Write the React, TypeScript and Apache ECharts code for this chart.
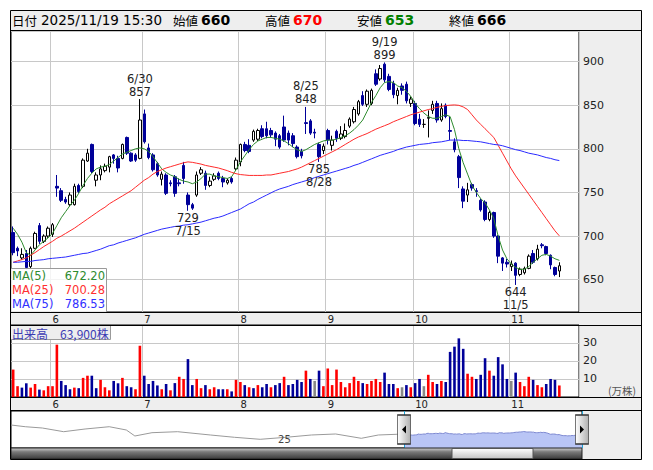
import { useEffect, useRef } from 'react';
import * as echarts from 'echarts';

// ---- dates (trading days, 2025) ----
const mayDays = [20, 21, 22, 23, 26, 27, 28, 29, 30];
const junDays = [2, 3, 4, 5, 6, 9, 10, 11, 12, 13, 16, 17, 18, 19, 20, 23, 24, 25, 26, 27, 30];
const julDays = [1, 2, 3, 4, 7, 8, 9, 10, 11, 14, 15, 16, 17, 18, 22, 23, 24, 25, 28, 29, 30, 31];
const augDays = [1, 4, 5, 6, 7, 8, 12, 13, 14, 15, 18, 19, 20, 21, 22, 25, 26, 27, 28, 29];
const sepDays = [1, 2, 3, 4, 5, 8, 9, 10, 11, 12, 16, 17, 18, 19, 22, 24, 25, 26, 29, 30];
const octDays = [1, 2, 3, 6, 7, 8, 9, 10, 14, 15, 16, 17, 20, 21, 22, 23, 24, 27, 28, 29, 30, 31];
const novDays = [4, 5, 6, 7, 10, 11, 12, 13, 14, 17, 18, 19];
const padDates = ['11/20', '11/21', '11/25', '11/26'];

// ---- OHLC ----
const opens = [704, 686, 675, 680, 665, 686, 712, 694, 700, 702, 757, 752, 742, 736, 736, 758, 757, 786, 805, 764, 770, 775, 779, 793, 789, 789, 813, 795, 793, 789, 840, 801, 793, 783, 765, 770, 761, 768, 761, 781, 747, 736, 747, 772, 772, 758, 765, 772, 766, 761, 766, 777, 785, 805, 804, 810, 811, 823, 823, 821, 818, 815, 825, 818, 815, 802, 797, 830, 832, 819, 805, 798, 821, 804, 820, 812, 814, 826, 831, 840, 861, 851, 852, 886, 880, 897, 883, 875, 861, 872, 874, 852, 852, 834, 828, 835, 844, 852, 833, 850, 821, 808, 791, 754, 747, 759, 752, 741, 739, 719, 727, 700, 675, 670, 665, 669, 656, 658, 663, 680, 674, 690, 688, 678, 664, 660];
const closes = [681, 683, 679, 664, 686, 703, 694, 700, 709, 713, 755, 741, 739, 747, 757, 751, 787, 795, 774, 770, 777, 780, 791, 789, 778, 805, 795, 786, 787, 833, 808, 790, 776, 770, 771, 749, 760, 749, 760, 766, 736, 732, 770, 776, 758, 763, 769, 766, 762, 764, 762, 787, 805, 798, 797, 820, 821, 814, 815, 816, 811, 802, 810, 810, 806, 791, 792, 829, 818, 818, 791, 803, 810, 810, 812, 817, 821, 834, 845, 854, 851, 866, 867, 874, 892, 879, 868, 862, 867, 867, 855, 857, 829, 828, 828, 836, 851, 833, 846, 837, 820, 799, 767, 740, 753, 755, 751, 730, 719, 727, 700, 677, 669, 668, 668, 655, 662, 663, 677, 670, 685, 689, 680, 667, 656, 666];
const lows = [678, 677, 673, 662, 663, 685, 691, 692, 698, 699, 745, 739, 737, 734, 735, 749, 755, 785, 772, 757, 764, 773, 773, 783, 773, 788, 793, 785, 785, 788, 806, 788, 774, 768, 758, 747, 757, 745, 757, 760, 729, 730, 745, 770, 753, 756, 763, 764, 756, 759, 760, 775, 780, 796, 795, 808, 809, 812, 812, 813, 803, 800, 808, 804, 802, 789, 789, 817, 816, 812, 785, 794, 805, 798, 808, 810, 812, 824, 829, 838, 849, 848, 850, 872, 878, 876, 866, 858, 851, 862, 852, 848, 827, 825, 824, 813, 840, 830, 831, 835, 810, 796, 755, 732, 739, 752, 745, 728, 717, 717, 698, 669, 660, 664, 660, 644, 654, 656, 662, 668, 672, 686, 678, 662, 654, 653];
const highs = [711, 688, 686, 684, 688, 705, 715, 702, 711, 715, 770, 755, 745, 750, 760, 760, 789, 800, 806, 773, 781, 783, 792, 794, 792, 806, 814, 796, 795, 857, 845, 806, 795, 785, 774, 772, 764, 770, 766, 785, 750, 738, 774, 779, 775, 768, 772, 774, 769, 766, 768, 790, 806, 808, 811, 822, 823, 827, 831, 824, 820, 817, 838, 821, 818, 804, 800, 848, 834, 823, 807, 806, 823, 815, 822, 826, 829, 836, 848, 856, 866, 868, 869, 891, 896, 899, 886, 878, 870, 875, 877, 860, 855, 840, 834, 844, 855, 855, 852, 852, 837, 812, 793, 757, 761, 761, 755, 743, 741, 729, 728, 701, 676, 674, 672, 670, 664, 665, 679, 684, 690, 692, 689, 679, 665, 670];

// ---- moving averages ----
const ma5 = [709, 702, 693, 681, 678, 684, 690, 694, 698, 703, 712, 721, 728, 735, 741, 749, 758, 766, 772, 777, 779, 780, 782, 786, 790, 794, 796, 798, 800, 801, 800, 797, 791, 784, 777, 773, 770, 768, 765, 763, 762, 760, 762, 766, 771, 771, 769, 768, 767, 766, 768, 776, 785, 792, 799, 805, 809, 811, 813, 813, 812, 811, 809, 806, 802, 799, 797, 799, 802, 805, 807, 809, 810, 810, 811, 813, 815, 818, 822, 827, 833, 843, 853, 861, 870, 876, 877, 876, 872, 870, 866, 860, 852, 846, 841, 837, 835, 835, 837, 839, 837, 822, 800, 784, 771, 758, 750, 743, 738, 730, 720, 700, 684, 674, 668, 664, 662, 662, 665, 670, 674, 678, 679, 677, 674, 672.2];
const ma25 = [670, 671.5, 673, 675, 678, 681, 684.5, 688, 691, 694, 697.5, 700, 703, 706, 709, 712.5, 716, 719.5, 723, 726.5, 730, 733, 737, 740, 743, 746, 749, 752, 756, 760, 764, 767, 771, 774, 776, 778, 779.5, 781, 782.5, 784, 785, 784.5, 783.5, 782.5, 781, 780, 779, 778, 776.5, 775, 773, 771.5, 770.5, 770, 769.5, 769.5, 769.5, 769.5, 770, 770, 771, 772, 773, 774, 775.5, 777, 779, 781.5, 784, 786.5, 789, 791.5, 794, 796.5, 799, 802, 805, 808, 811, 813.5, 815.5, 817.5, 820, 822.5, 824.5, 826.5, 828.5, 831, 833, 835, 837, 839, 840.5, 842, 843.5, 845, 846, 847.5, 848.5, 849.5, 850, 850.3, 849.8, 848, 845, 839, 833, 828, 823, 818, 813, 804, 795, 786, 777, 769, 762, 755, 748, 741, 734, 727, 720, 713, 706, 700.28];
const ma75 = [670, 670, 670.5, 671, 671, 672, 672.5, 673, 674, 674.5, 675, 675.5, 676, 677, 678, 679, 680, 680.5, 682, 683.5, 685, 687, 689, 690, 692, 693.5, 695, 696.5, 698, 700, 702, 703.5, 705, 706.5, 708, 709, 710, 711, 711.5, 712.5, 713, 714, 715, 716, 717.5, 719, 720.5, 721.5, 723, 725, 727, 729, 731, 734, 737, 739, 742, 744.5, 747, 749.5, 752, 754, 755.5, 757, 759, 760.5, 762, 763.5, 765, 767, 768.5, 770, 771.5, 773, 774.5, 776, 777.5, 779, 781, 782.5, 784.5, 786.5, 788.5, 790.5, 792.5, 794, 795.5, 797, 799, 800.5, 802, 803, 804, 805, 805.5, 806, 807, 807.5, 808, 809, 810, 810, 810, 809.5, 809.5, 809, 808.5, 808, 807, 806, 805, 804.5, 803.5, 802, 800.5, 799, 798, 796.5, 795, 794, 793, 791.5, 790, 789, 787.5, 786.53];

// ---- volume (万株) and direction vs previous close ----
const volumes = [15.2, 6.0, 5.2, 7.6, 5.2, 7.2, 4.1, 3.7, 6.0, 6.0, 29.0, 8.9, 6.6, 4.3, 5.2, 4.9, 10.6, 11.8, 11.8, 4.9, 9.5, 5.4, 3.7, 8.9, 7.6, 10.6, 6.0, 5.4, 4.3, 28.4, 11.8, 7.2, 8.9, 6.4, 4.3, 7.2, 3.7, 7.7, 11.2, 10.0, 21.0, 6.6, 10.0, 4.9, 6.6, 4.3, 5.4, 4.3, 4.3, 4.3, 3.1, 9.5, 8.3, 6.6, 5.4, 4.9, 6.6, 5.4, 7.2, 5.4, 6.6, 7.7, 11.2, 6.6, 7.2, 9.5, 8.3, 14.6, 10.0, 8.9, 14.6, 6.0, 15.8, 6.6, 15.2, 8.3, 5.4, 7.7, 11.2, 8.9, 7.7, 7.2, 8.9, 10.0, 8.3, 13.5, 7.2, 7.2, 4.9, 5.4, 6.6, 5.4, 7.7, 10.0, 6.0, 12.3, 8.3, 7.2, 8.9, 8.3, 25.0, 27.9, 32.5, 26.7, 12.9, 11.2, 10.0, 12.3, 21.5, 14.6, 11.8, 22.1, 18.1, 10.0, 8.9, 13.5, 8.3, 6.0, 11.2, 9.5, 6.6, 5.4, 7.2, 10.0, 9.5, 6.39];
const volumeDir = ('rrbbrrbrrr' + 'rbbbrbrrbb' + 'rrrbbrbbrr' + 'bbbbrbrbrr' + 'bbrrbrrbbr' + 'brrbrbrbbr' + 'bbrbbbbrbg' + 'brrrrrrrrr' + 'brrrrbbbrg' + 'brbbgrrbrb' + 'bbbbrrbbbr' + 'bbbbgbrrrb' + 'rrbbbr').split('');

// ---- high / low annotations ----
const annotIndex = [29, 40, 67, 70, 85, 115];
const annotKind = ['high', 'low', 'high', 'low', 'high', 'low'];

// ---- navigator history (day offset before 5/20, close) ----
const navHistDays = [-276, -266, -254, -239, -224, -207, -195, -189, -177, -159, -136, -119, -101, -83, -65, -48, -30, -18, -5, 0];
const navHistValues = [1243, 1151, 1081, 881, 1027, 1151, 973, 649, 827, 881, 703, 578, 470, 578, 703, 757, 524, 703, 741, 704];
const navYearLabel = '25';
const navYearDay = -84;

const FN = '"DejaVu Sans", Verdana, sans-serif';
const FJ = '"Noto Sans CJK JP", "Noto Sans", sans-serif';
const GRIDC = '#c8c8c8';
const UP_VOL = '#ff0000';
const DOWN_VOL = '#000099';

const monthLists = [mayDays, junDays, julDays, augDays, sepDays, octDays, novDays];
const dates: string[] = [];
monthLists.forEach((days, mi) => days.forEach((d) => dates.push(`${mi + 5}/${d}`)));
const categories = dates.concat(padDates);
const monthOf = (s: string) => s.split('/')[0];
const isMonthStart = (i: number) => i > 0 && i < dates.length && monthOf(categories[i]) !== monthOf(categories[i - 1]);

export default function App() {
  const ref = useRef<HTMLDivElement>(null);
  useEffect(() => {
    const chart = echarts.init(ref.current!, null, { renderer: 'svg', width: 653, height: 470 });
    const last = dates.length - 1;
    const candleData = opens.map((o, i) => [o, closes[i], lows[i], highs[i]]);
    const volColor = (d: string) => (d === 'r' ? UP_VOL : d === 'b' ? DOWN_VOL : '#888888');
    const volData = volumes.map((v, i) => ({ value: v, itemStyle: { color: volColor(volumeDir[i]) } }));

    const marks = annotIndex.map((idx, k) => {
      const hi = annotKind[k] === 'high';
      const val = hi ? highs[idx] : lows[idx];
      return {
        coord: [idx, val],
        value: val,
        label: {
          position: hi ? 'top' : 'bottom',
          distance: 1,
          formatter: hi ? `${dates[idx]}\n${val}` : `${val}\n${dates[idx]}`,
        },
      };
    });

    const catAxis = (gridIndex: number) => ({
      type: 'category',
      gridIndex,
      data: categories,
      boundaryGap: true,
      axisLine: { show: false },
      axisTick: { show: false },
      axisLabel: {
        interval: (i: number) => isMonthStart(i),
        formatter: (v: string) => monthOf(v),
        align: 'left',
        margin: 2,
        fontSize: 10,
        fontFamily: FN,
        color: '#222',
      },
      splitLine: { show: true, interval: (i: number) => isMonthStart(i), lineStyle: { color: GRIDC, width: 1 } },
    });

    const maLine = (name: string, data: number[], color: string) => ({
      type: 'line',
      name,
      xAxisIndex: 0,
      yAxisIndex: 0,
      data,
      symbol: 'none',
      z: 4,
      lineStyle: { color, width: 1 },
      silent: true,
    });

    const handleGrad = { type: 'linear', x: 0, y: 0, x2: 1, y2: 0, colorStops: [{ offset: 0, color: '#ffffff' }, { offset: 1, color: '#b0b0b0' }] };
    const handleMarks = (d: number, left: boolean) => [
      { coord: [d, 1000], symbol: 'rect', symbolSize: [13, 29], itemStyle: { color: handleGrad, borderColor: '#333', borderWidth: 1 } },
      { coord: [d, 1000], symbol: left ? 'path://M4,0L0,4L4,8Z' : 'path://M0,0L4,4L0,8Z', symbolSize: [4, 8], itemStyle: { color: '#000' } },
    ];

    const legendRows = [
      { name: 'MA(5)', val: ma5[last], color: '#2e8b2e' },
      { name: 'MA(25)', val: ma25[last], color: '#ff3030' },
      { name: 'MA(75)', val: ma75[last], color: '#3030ff' },
    ];

    const hdrY = 20;
    const txt = (x: number, y: number, text: string, extra: any = {}) => ({
      type: 'text', x, y, z: 200, silent: true,
      style: { text, fill: '#000', fontSize: 13, fontFamily: FN, verticalAlign: 'middle', align: 'left', ...extra },
    });

    const volText = Math.round(volumes[last] * 10000).toLocaleString('en-US');

    chart.setOption({
      animation: false,
      backgroundColor: '#ffffff',
      grid: [
        { left: 11, top: 31, width: 568, height: 281, show: true, backgroundColor: '#ffffff', borderColor: '#000', borderWidth: 1 },
        { left: 11, top: 325, width: 568, height: 72, show: true, backgroundColor: '#ffffff', borderColor: '#000', borderWidth: 1 },
        { left: 11, top: 411, width: 571, height: 37, show: true, backgroundColor: '#ffffff', borderColor: '#000', borderWidth: 1 },
      ],
      xAxis: [
        catAxis(0),
        catAxis(1),
        { type: 'value', gridIndex: 2, min: navHistDays[0], max: last, show: false },
      ],
      yAxis: [
        {
          type: 'value', gridIndex: 0, position: 'right', min: 613, max: 935,
          axisLine: { show: false }, axisTick: { show: false },
          axisLabel: { formatter: (v: number) => (v % 50 === 0 ? String(v) : ''), margin: 4, fontSize: 11, fontFamily: FN, color: '#222' },
          splitLine: { lineStyle: { color: GRIDC } },
        },
        {
          type: 'value', gridIndex: 1, position: 'right', min: 0, max: 39.9,
          axisLine: { show: false }, axisTick: { show: false },
          axisLabel: { formatter: (v: number) => (v === 10 || v === 20 || v === 30 ? String(v) : ''), margin: 4, fontSize: 11, fontFamily: FN, color: '#222' },
          splitLine: { lineStyle: { color: GRIDC } },
        },
        { type: 'value', gridIndex: 2, min: 0, max: 2000, show: false },
      ],
      series: [
        {
          type: 'candlestick',
          xAxisIndex: 0,
          yAxisIndex: 0,
          data: candleData,
          barWidth: 3,
          z: 3,
          itemStyle: { color: '#ffffff', color0: '#000099', borderColor: '#000000', borderColor0: '#000099', borderWidth: 1 },
          markPoint: {
            symbol: 'circle',
            symbolSize: 0.1,
            itemStyle: { color: 'transparent' },
            label: { show: true, color: '#222', fontSize: 11.5, fontFamily: FN, lineHeight: 13 },
            data: marks,
          },
        },
        maLine('MA5', ma5, '#2e8b2e'),
        maLine('MA25', ma25, '#ff2a2a'),
        maLine('MA75', ma75, '#2a2aff'),
        {
          type: 'bar',
          xAxisIndex: 1,
          yAxisIndex: 1,
          data: volData,
          barWidth: 2.6,
        },
        {
          type: 'line',
          xAxisIndex: 2,
          yAxisIndex: 2,
          data: navHistDays.map((d, i) => [d, navHistValues[i]]),
          symbol: 'none',
          lineStyle: { color: '#9a9a9a', width: 1 },
          markPoint: {
            symbol: 'circle',
            symbolSize: 0.1,
            itemStyle: { color: 'transparent' },
            label: { show: true, position: 'inside', color: '#444', fontSize: 10, fontFamily: FN, formatter: navYearLabel },
            data: [{ coord: [navYearDay, 440] }],
          },
        },
        {
          type: 'line',
          xAxisIndex: 2,
          yAxisIndex: 2,
          data: closes.map((c, i) => [i, c]),
          symbol: 'none',
          lineStyle: { color: '#7d88d0', width: 1 },
          areaStyle: { color: '#b9c5f5', opacity: 1 },
          markLine: {
            silent: true,
            symbol: 'none',
            label: { show: false },
            lineStyle: { color: '#1fa6d8', width: 1, type: 'solid' },
            data: [{ xAxis: 0 }, { xAxis: last }],
          },
          markPoint: {
            label: { show: false },
            data: [...handleMarks(0, true), ...handleMarks(last, false)],
          },
        },
      ],
      graphic: {
        elements: [
          { type: 'rect', z: -100, silent: true, shape: { x: 10, y: 10, width: 632, height: 450 }, style: { fill: '#eeeeee' } },
          // scrollbar
          {
            type: 'rect', z: 150, silent: true, shape: { x: 11, y: 448, width: 571, height: 11 },
            style: { fill: { type: 'linear', x: 0, y: 0, x2: 0, y2: 1, colorStops: [{ offset: 0, color: '#d0d0d0' }, { offset: 0.35, color: '#7a7a7a' }, { offset: 1, color: '#3a3a3a' }] }, stroke: '#222', lineWidth: 1 },
          },
          {
            type: 'rect', z: 151, silent: true, shape: { x: 452, y: 448.5, width: 81, height: 10 },
            style: { fill: { type: 'linear', x: 0, y: 0, x2: 0, y2: 1, colorStops: [{ offset: 0, color: '#ffffff' }, { offset: 1, color: '#c4c4c4' }] }, stroke: '#555', lineWidth: 1 },
          },
          // MA legend box
          { type: 'rect', z: 150, silent: true, shape: { x: 10.5, y: 268.5, width: 96, height: 44 }, style: { fill: 'rgba(255,255,255,0.8)', stroke: '#9a9a9a', lineWidth: 1 } },
          ...legendRows.flatMap((r, k) => [
            txt(12, 276 + k * 14.2, r.name, { fill: r.color, fontSize: 11.5 }),
            txt(105, 276 + k * 14.2, r.val.toFixed(2), { fill: r.color, fontSize: 11.5, align: 'right' }),
          ]),
          // volume legend box
          { type: 'rect', z: 150, silent: true, shape: { x: 10.5, y: 325.5, width: 100, height: 14 }, style: { fill: '#eeeeee', stroke: '#9a9a9a', lineWidth: 1 } },
          txt(12, 333, `出来高　${volText}株`, { fill: '#3c3cb4', fontSize: 12, fontFamily: FJ }),
          txt(608, 390, '(万株)', { fill: '#555', fontSize: 10.5, fontFamily: FJ }),
          // header
          txt(12, hdrY, '日付', { fontSize: 12.5, fontFamily: FJ }),
          txt(41, hdrY, `2025/${dates[last]} 15:30`, { fontSize: 13.5 }),
          txt(173, hdrY, '始値', { fontSize: 12.5, fontFamily: FJ }),
          txt(201, hdrY, String(opens[last]), { fontSize: 14, fontWeight: 'bold' }),
          txt(265, hdrY, '高値', { fontSize: 12.5, fontFamily: FJ }),
          txt(293, hdrY, String(highs[last]), { fontSize: 14, fontWeight: 'bold', fill: '#ff0000' }),
          txt(357, hdrY, '安値', { fontSize: 12.5, fontFamily: FJ }),
          txt(385, hdrY, String(lows[last]), { fontSize: 14, fontWeight: 'bold', fill: '#008000' }),
          txt(449, hdrY, '終値', { fontSize: 12.5, fontFamily: FJ }),
          txt(477, hdrY, String(closes[last]), { fontSize: 14, fontWeight: 'bold' }),
          // frame lines
          { type: 'line', z: 160, silent: true, shape: { x1: 10, y1: 30.5, x2: 642, y2: 30.5 }, style: { stroke: '#000', lineWidth: 1 } },
          { type: 'line', z: 160, silent: true, shape: { x1: 10, y1: 312.5, x2: 642, y2: 312.5 }, style: { stroke: '#000', lineWidth: 1 } },
          { type: 'line', z: 160, silent: true, shape: { x1: 10, y1: 325.5, x2: 642, y2: 325.5 }, style: { stroke: '#000', lineWidth: 1 } },
          { type: 'line', z: 160, silent: true, shape: { x1: 10, y1: 397.5, x2: 642, y2: 397.5 }, style: { stroke: '#000', lineWidth: 1 } },
          { type: 'line', z: 160, silent: true, shape: { x1: 10, y1: 410.5, x2: 642, y2: 410.5 }, style: { stroke: '#000', lineWidth: 1 } },
          { type: 'rect', z: 160, silent: true, shape: { x: 10.5, y: 10.5, width: 631, height: 449 }, style: { fill: 'none', stroke: '#000', lineWidth: 1 } },
        ],
      },
    });
    return () => chart.dispose();
  }, []);
  return <div ref={ref} style={{ position: 'absolute', left: 0, top: 0, width: 653, height: 470 }} />;
}
